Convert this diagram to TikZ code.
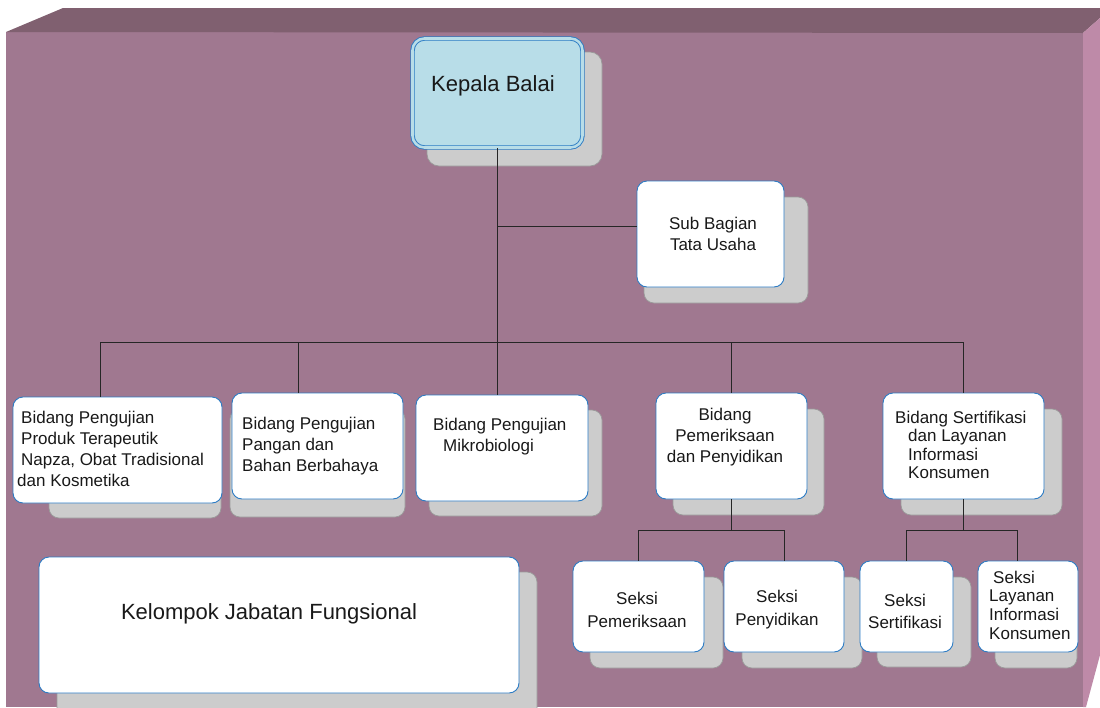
\documentclass[tikz,border=0pt]{standalone}
\usepackage{fontspec}
\setmainfont{Liberation Sans}
\usetikzlibrary{calc}
\definecolor{frontface}{HTML}{A07890}
\definecolor{topface}{HTML}{806070}
\definecolor{rightface}{HTML}{BE8AA8}
\definecolor{boxblue}{HTML}{2B7BC4}
\definecolor{kepfill}{HTML}{B8DDE8}
\definecolor{shadowgray}{HTML}{CCCCCC}
\definecolor{shadowedge}{HTML}{9A9A9A}
\tikzset{
  orgbox/.style={draw=boxblue, fill=white, rounded corners=10pt, line width=0.9pt, inner sep=0pt},
  headbox/.style={draw=boxblue, double=kepfill, double distance=2.6pt, line width=0.9pt, fill=kepfill, rounded corners=12pt, inner sep=0pt},
  shadowbox/.style={fill=shadowgray, draw=shadowedge, rounded corners=10pt, line width=0.7pt},
  conn/.style={draw=black!85, line width=0.9pt},
  txt/.style={inner sep=0pt, text=black!90, font=\fontsize{17}{21}\selectfont},
  bigtxt/.style={inner sep=0pt, text=black!90, font=\fontsize{22}{26}\selectfont}
}
\begin{document}
\begin{tikzpicture}[x=1pt,y=-1pt]
\useasboundingbox (0,0) rectangle (1100,707);
% 3D background box
\fill[white] (0,0) rectangle (1100,707);
\fill[frontface] (6,32) rectangle (1083,707);
\fill[topface] (6,32) -- (63,8) -- (1100,8) -- (1100,18) -- (1083,33) -- cycle;
\fill[rightface] (1083,33) -- (1100,18) -- (1100,655) -- (1086,707) -- (1083,707) -- cycle;
% shadows
\draw[shadowbox, rounded corners=12pt] (427,52) rectangle (602,166);
\draw[shadowbox] (644,197) rectangle (808,303);
\draw[shadowbox] (49,412) rectangle (221,518);
\draw[shadowbox] (230,409) rectangle (405,517);
\draw[shadowbox] (429,410) rectangle (602,516);
\draw[shadowbox] (673,409) rectangle (824,515);
\draw[shadowbox] (901,409) rectangle (1062,515);
\draw[shadowbox] (57,572) rectangle (537,722);
\draw[shadowbox] (590,577) rectangle (723,668);
\draw[shadowbox] (742,577) rectangle (862,668);
\draw[shadowbox] (877,577) rectangle (971,667);
\draw[shadowbox] (995,577) rectangle (1077,668);
% boxes
\node[headbox, minimum width=170pt, minimum height=109pt] (b0) at (497.5,93) {};
\node[orgbox, minimum width=147pt, minimum height=106pt] (bs) at (710.5,234) {};
\node[orgbox, minimum width=209pt, minimum height=106pt] (b1) at (117.5,450) {};
\node[orgbox, minimum width=171pt, minimum height=106pt] (b2) at (317.5,446) {};
\node[orgbox, minimum width=172pt, minimum height=106pt] (b3) at (502,448) {};
\node[orgbox, minimum width=151pt, minimum height=106pt] (b4) at (731.5,446) {};
\node[orgbox, minimum width=161pt, minimum height=106pt] (b5) at (963.5,446) {};
\node[orgbox, minimum width=480pt, minimum height=136pt] (bk) at (279,625) {};
\node[orgbox, minimum width=131pt, minimum height=91pt] (sa) at (638.5,606.5) {};
\node[orgbox, minimum width=120pt, minimum height=91pt] (sb) at (784,606.5) {};
\node[orgbox, minimum width=93pt, minimum height=91pt] (sc) at (906.5,606.5) {};
\node[orgbox, minimum width=100pt, minimum height=91pt] (sd) at (1028,606.5) {};
% connectors
\coordinate (jt) at (497.5,226);
\coordinate (jb) at (497.5,342);
\coordinate (d1) at (100,342);
\coordinate (d2) at (298,342);
\coordinate (d5) at (963.5,342);
\draw[conn] (b0.south) -- (jb);
\draw[conn] (jt) -- (bs.west |- jt);
\draw[conn] (d1) -- (d5);
\draw[conn] (d1) -- (d1 |- b1.north);
\draw[conn] (d2) -- (d2 |- b2.north);
\draw[conn] (jb) -- (jb |- b3.north);
\draw[conn] (b4.north |- jb) -- (b4.north);
\draw[conn] (d5) -- (b5.north);
\coordinate (j4) at (731.5,530);
\coordinate (j4l) at (638.5,530);
\coordinate (j4r) at (784,530);
\draw[conn] (b4.south) -- (j4);
\draw[conn] (j4l) -- (j4r);
\draw[conn] (j4l) -- (sa.north);
\draw[conn] (j4r) -- (sb.north);
\coordinate (j5) at (963.5,530);
\coordinate (j5l) at (906.5,530);
\coordinate (j5r) at (1017,530);
\draw[conn] (b5.south) -- (j5);
\draw[conn] (j5l) -- (j5r);
\draw[conn] (j5l) -- (sc.north);
\draw[conn] (j5r) -- (j5r |- sd.north);
% redraw box tops over connector ends
% texts
\node[bigtxt] (t0) at (493,86) {Kepala Balai};
\node[txt, align=center] (ts) at (713,234) {Sub Bagian\\Tata Usaha};
\node[txt, align=left, anchor=west] (t1) at (21,449) {Bidang Pengujian\\Produk Terapeutik\\Napza, Obat Tradisional\\\hspace*{-4pt}dan Kosmetika};
\node[txt, align=left, anchor=west] (t2) at (242,446) {Bidang Pengujian\\Pangan dan\\Bahan Berbahaya};
\node[txt, align=left, anchor=west] (t3) at (433,437) {Bidang Pengujian\\\hspace*{10pt}Mikrobiologi};
\node[txt, align=center] (t4) at (725,437) {Bidang\\Pemeriksaan\\dan Penyidikan};
\node[txt, align=left, anchor=west, font=\fontsize{17}{18.5}\selectfont] (t5) at (895,445) {Bidang Sertifikasi\\\hspace*{13pt}dan Layanan\\\hspace*{13pt}Informasi\\\hspace*{13pt}Konsumen};
\node[bigtxt] (tk) at (269,614) {Kelompok Jabatan Fungsional};
\node[txt, align=center, font=\fontsize{17}{23}\selectfont] (ta) at (637,610) {Seksi\\Pemeriksaan};
\node[txt, align=center, font=\fontsize{17}{23}\selectfont] (tb) at (777,610) {Seksi\\Penyidikan};
\node[txt, align=center, font=\fontsize{17}{22}\selectfont] (tc) at (905,611) {Seksi\\Sertifikasi};
\node[txt, align=left, anchor=west, font=\fontsize{17}{18.7}\selectfont] (td) at (989,605) {\hspace*{4pt}Seksi\\Layanan\\Informasi\\Konsumen};
\end{tikzpicture}
\end{document}
